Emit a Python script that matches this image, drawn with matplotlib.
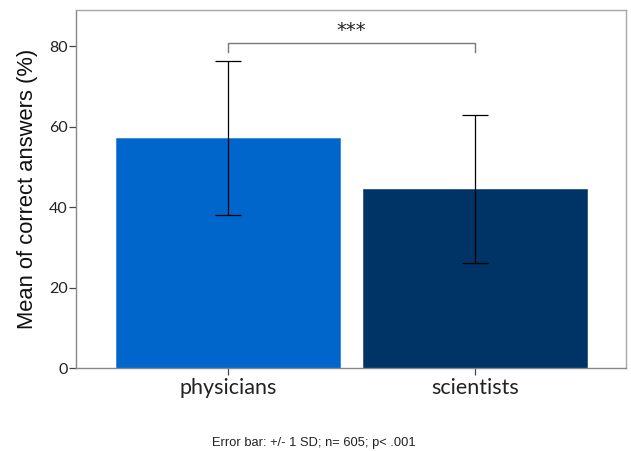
import matplotlib
matplotlib.use("Agg")
import matplotlib.pyplot as plt
import numpy as np

categories = ["physicians", "scientists"]
means = [57.3, 44.5]
sds = [19.1, 18.4]
colors = ["#0066CC", "#003366"]
yticks = [0, 20, 40, 60, 80]
footer = "Error bar: +/- 1 SD; n= 605; p< .001"
sig_label = "***"

fig = plt.figure(figsize=(6.31, 4.51), dpi=100)
W, H = 631, 451
ax = fig.add_axes([76 / W, 1 - 368.3 / H, 550 / W, (368.3 - 10) / H])

x = np.arange(len(categories))
ax.bar(x, means, width=0.907, color=colors, edgecolor=["#3388dd", "#335577"], linewidth=0.6, zorder=2)
ax.errorbar(x, means, yerr=sds, fmt="none", ecolor="black", elinewidth=0.9, capsize=9.5, capthick=0.9, zorder=3)

ax.set_xlim(-0.615, 1.611)
ax.set_ylim(0, 89)
ax.set_yticks(yticks)
ax.set_xticks(x)
ax.set_xticklabels(categories, fontfamily="Lato", fontsize=15.5, color="#222222")
for lab in ax.get_yticklabels():
    lab.set_fontfamily("Lato")
    lab.set_fontsize(11.5)
    lab.set_color("#222222")
ax.tick_params(axis="both", direction="out", length=5, width=0.9, color="#444444")
ax.tick_params(axis="y", pad=1)
ax.tick_params(axis="x", pad=2)
for s in ax.spines.values():
    s.set_color("#a8a8a8")
    s.set_linewidth(1.0)
ax.spines["left"].set_color("#888888")
ax.spines["bottom"].set_color("#888888")

ax.set_ylabel("Mean of correct answers (%)", fontfamily="Liberation Sans", fontsize=15.8, color="#111111", labelpad=8)

# significance bracket
yb = 80.7
ax.plot([x[0], x[0], x[1], x[1]], [78.5, yb, yb, 78.5], color="#777777", linewidth=1.0, zorder=4)
ax.text((x[0] + x[1]) / 2, yb + 0.8, sig_label, ha="center", va="bottom", fontsize=14, color="#222222", fontfamily="DejaVu Sans")

fig.text(314 / W, 1 - 443 / H, footer, ha="center", va="center", fontsize=9.3, fontfamily="Liberation Sans", color="#222222")

fig.savefig("out.png", dpi=100)
